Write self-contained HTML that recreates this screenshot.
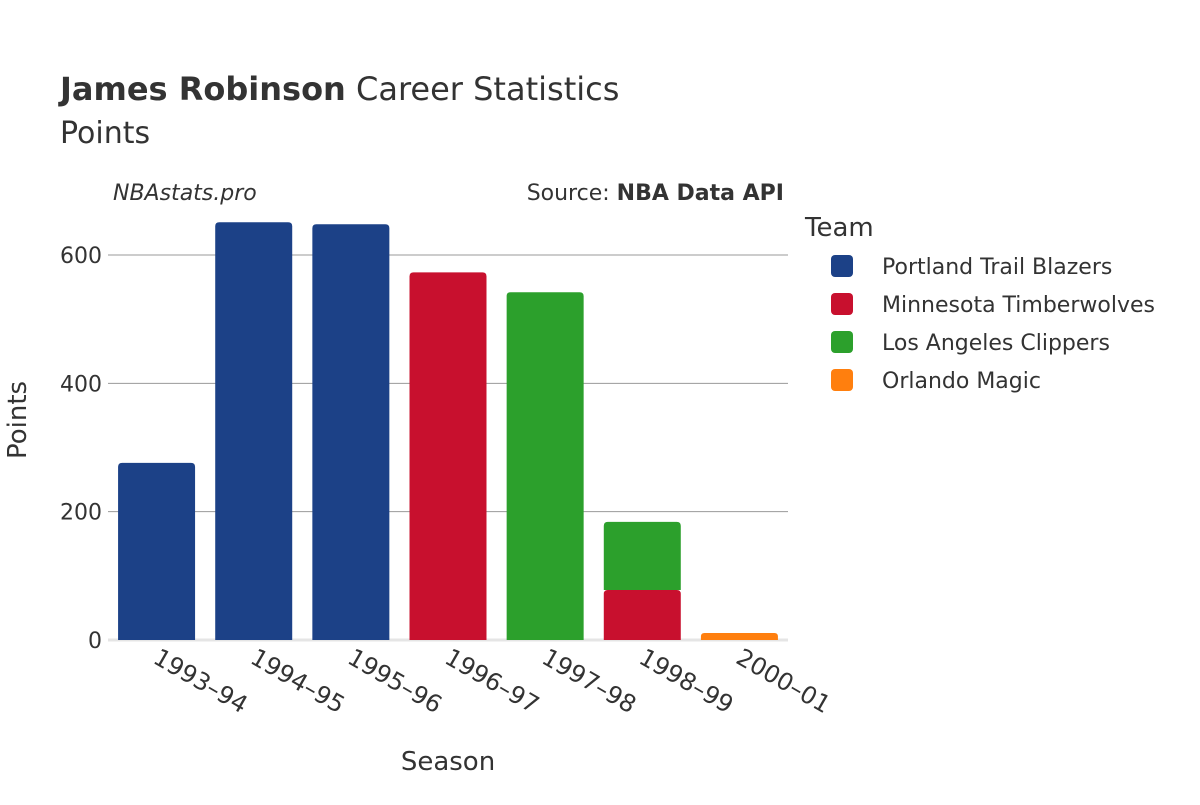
<!DOCTYPE html>
<html><head><meta charset="utf-8"><style>
body{margin:0;background:#fff;}
svg{font-family:"DejaVu Sans","Liberation Sans",sans-serif;}
</style></head><body>
<svg id="chart" width="1200" height="800" viewBox="0 0 1200 800">
<rect width="1200" height="800" fill="#fff"/>
<text x="60" y="100" font-size="32" fill="#333"><tspan font-weight="bold">James Robinson</tspan> Career Statistics</text>
<text x="60" y="143" font-size="30" fill="#333">Points</text>
<text x="113" y="200" font-size="22" font-style="italic" fill="#333">NBAstats.pro</text>
<text x="784" y="200" font-size="22" fill="#333" text-anchor="end">Source: <tspan font-weight="bold">NBA Data API</tspan></text>
<g id="grid"></g>
<g id="bars"></g>
<g id="xticks"></g>
<text x="448" y="770" font-size="26" fill="#333" text-anchor="middle">Season</text>
<text transform="translate(26,420) rotate(-90)" font-size="26" fill="#333" text-anchor="middle">Points</text>
<g id="legend"></g>
</svg>
<script>
const seasons=["1993–94","1994–95","1995–96","1996–97","1997–98","1998–99","2000–01"];
const teams=["Portland Trail Blazers","Minnesota Timberwolves","Los Angeles Clippers","Orlando Magic"];
const colors=["#1c4187","#c8102e","#2ca02c","#ff7f0e"];
const portland=[276,651,648,0,0,0,0];
const minnesota=[0,0,0,573,0,78,0];
const clippers=[0,0,0,0,542,106,0];
const orlando=[0,0,0,0,0,0,11];
const yTicks=[0,200,400,600];
const series=[portland,minnesota,clippers,orlando];
const NS="http://www.w3.org/2000/svg";
const x0=108,x1=788,y0=640,yScale=385/600;
const band=(x1-x0)/seasons.length;
const xc=i=>x0+band*(i+0.5);
const yp=v=>y0-v*yScale;
function mk(tag,attrs,parent){const e=document.createElementNS(NS,tag);for(const k in attrs)e.setAttribute(k,attrs[k]);parent.appendChild(e);return e;}
const grid=document.getElementById('grid');
yTicks.forEach(t=>{
  const l=mk('line',{x1:x0,x2:x1,y1:yp(t),y2:yp(t),stroke:t===0?'#e5e5e5':'#999','stroke-width':t===0?3:1},grid);
  
  
  const tx=mk('text',{x:x0-6,y:yp(t)+8,'font-size':22,fill:'#333','text-anchor':'end'},grid);
  tx.textContent=t;
  
  
});
const bars=document.getElementById('bars');
const bw=77;
seasons.forEach((s,i)=>{
  let base=0;
  series.forEach((ser,j)=>{
    const v=ser[i]; if(!v)return;
    const top=base+v;
    const r=mk('path',{d:roundedTop(xc(i)-bw/2,yp(top),bw,yp(base)-yp(top),4),fill:colors[j]},bars);
    
    
    base=top;
  });
  const t=mk('text',{x:0,y:0,'font-size':24,fill:'#333','text-anchor':'middle',transform:`translate(${xc(i)+40},${688}) rotate(30)`},document.getElementById('xticks'));
  t.textContent=s;
  
  
});
function roundedTop(x,y,w,h,r){r=Math.min(r,h/2,w/2);return `M${x},${y+h}V${y+r}Q${x},${y} ${x+r},${y}H${x+w-r}Q${x+w},${y} ${x+w},${y+r}V${y+h}Z`;}
const leg=document.getElementById('legend');
const lt=mk('text',{x:805,y:236,'font-size':26,fill:'#333'},leg);
lt.textContent='Team';


teams.forEach((tm,j)=>{
  const y=266+j*38;
  const g=mk('g',{},leg);
  
  
  mk('rect',{x:831,y:y-11,width:22,height:22,rx:4,fill:colors[j]},g);
  const t=mk('text',{x:882,y:y+8,'font-size':22,fill:'#333'},g);
  t.textContent=tm;
});
</script>
</body></html>
